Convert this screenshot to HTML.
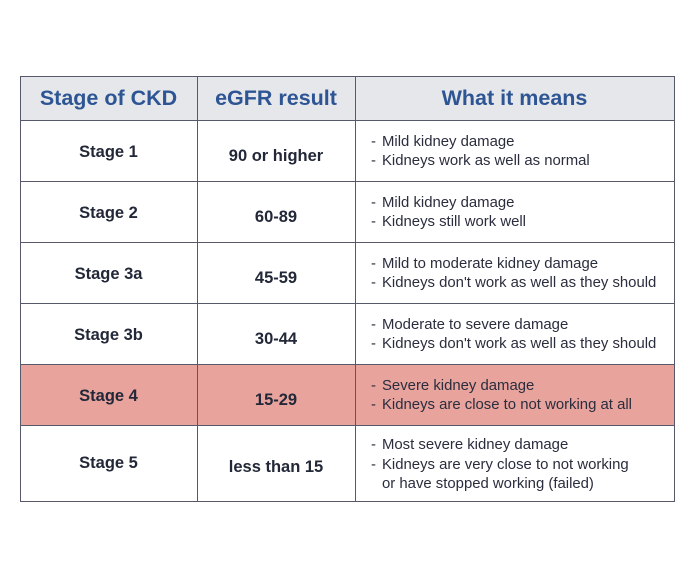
<!DOCTYPE html>
<html><head><style>
body{margin:0;width:695px;height:578px;background:#fff;position:relative;font-family:"Liberation Sans",sans-serif;overflow:hidden}
.c{position:absolute;box-sizing:border-box;display:flex;align-items:center}
.b{justify-content:center;font-weight:bold;font-size:16.5px;color:#232838}
.h{justify-content:center;font-weight:bold;font-size:21.5px;color:#2d5594;background:#e6e7ea}
.t{font-size:14.9px;color:#2a2d3d;line-height:19.5px;padding-left:27px;padding-top:3px}
.t div{position:relative}
.t div.d:before{content:"-";position:absolute;left:-11px}
.hl{position:absolute;background:#55596a}
</style></head><body>
<div class="c h" style="left:20px;top:76px;width:177px;height:44px">Stage of CKD</div>
<div class="c h" style="left:197px;top:76px;width:158px;height:44px">eGFR result</div>
<div class="c h" style="left:355px;top:76px;width:319px;height:44px">What it means</div>
<div style="position:absolute;left:20px;top:364px;width:654px;height:61px;background:#e8a39d"></div>

<div class="c b" style="left:20px;top:120px;width:177px;height:61px;padding-top:4px">Stage 1</div>
<div class="c b" style="left:197px;top:120px;width:158px;height:61px;padding-top:12px">90 or higher</div>
<div class="c t" style="left:355px;top:120px;width:319px;height:61px"><div><div class="d">Mild kidney damage</div><div class="d">Kidneys work as well as normal</div></div></div>

<div class="c b" style="left:20px;top:181px;width:177px;height:61px;padding-top:4px">Stage 2</div>
<div class="c b" style="left:197px;top:181px;width:158px;height:61px;padding-top:12px">60-89</div>
<div class="c t" style="left:355px;top:181px;width:319px;height:61px"><div><div class="d">Mild kidney damage</div><div class="d">Kidneys still work well</div></div></div>

<div class="c b" style="left:20px;top:242px;width:177px;height:61px;padding-top:4px">Stage 3a</div>
<div class="c b" style="left:197px;top:242px;width:158px;height:61px;padding-top:12px">45-59</div>
<div class="c t" style="left:355px;top:242px;width:319px;height:61px"><div><div class="d">Mild to moderate kidney damage</div><div class="d">Kidneys don't work as well as they should</div></div></div>

<div class="c b" style="left:20px;top:303px;width:177px;height:61px;padding-top:4px">Stage 3b</div>
<div class="c b" style="left:197px;top:303px;width:158px;height:61px;padding-top:12px">30-44</div>
<div class="c t" style="left:355px;top:303px;width:319px;height:61px"><div><div class="d">Moderate to severe damage</div><div class="d">Kidneys don't work as well as they should</div></div></div>

<div class="c b" style="left:20px;top:364px;width:177px;height:61px;padding-top:4px">Stage 4</div>
<div class="c b" style="left:197px;top:364px;width:158px;height:61px;padding-top:12px">15-29</div>
<div class="c t" style="left:355px;top:364px;width:319px;height:61px"><div><div class="d">Severe kidney damage</div><div class="d">Kidneys are close to not working at all</div></div></div>

<div class="c b" style="left:20px;top:425px;width:177px;height:77px">Stage 5</div>
<div class="c b" style="left:197px;top:425px;width:158px;height:77px;padding-top:8px">less than 15</div>
<div class="c t" style="left:355px;top:425px;width:319px;height:77px;padding-top:4px"><div><div class="d">Most severe kidney damage</div><div class="d">Kidneys are very close to not working</div><div>or have stopped working (failed)</div></div></div>

<div class="hl" style="left:20px;top:76px;width:655px;height:1px"></div>
<div class="hl" style="left:20px;top:120px;width:655px;height:1px"></div>
<div class="hl" style="left:20px;top:181px;width:655px;height:1px"></div>
<div class="hl" style="left:20px;top:242px;width:655px;height:1px"></div>
<div class="hl" style="left:20px;top:303px;width:655px;height:1px"></div>
<div class="hl" style="left:20px;top:364px;width:655px;height:1px"></div>
<div class="hl" style="left:20px;top:425px;width:655px;height:1px"></div>
<div class="hl" style="left:20px;top:501px;width:655px;height:1px"></div>
<div class="hl" style="left:20px;top:76px;width:1px;height:426px"></div>
<div class="hl" style="left:197px;top:76px;width:1px;height:426px"></div>
<div class="hl" style="left:355px;top:76px;width:1px;height:426px"></div>
<div class="hl" style="left:674px;top:76px;width:1px;height:426px"></div>
</body></html>
